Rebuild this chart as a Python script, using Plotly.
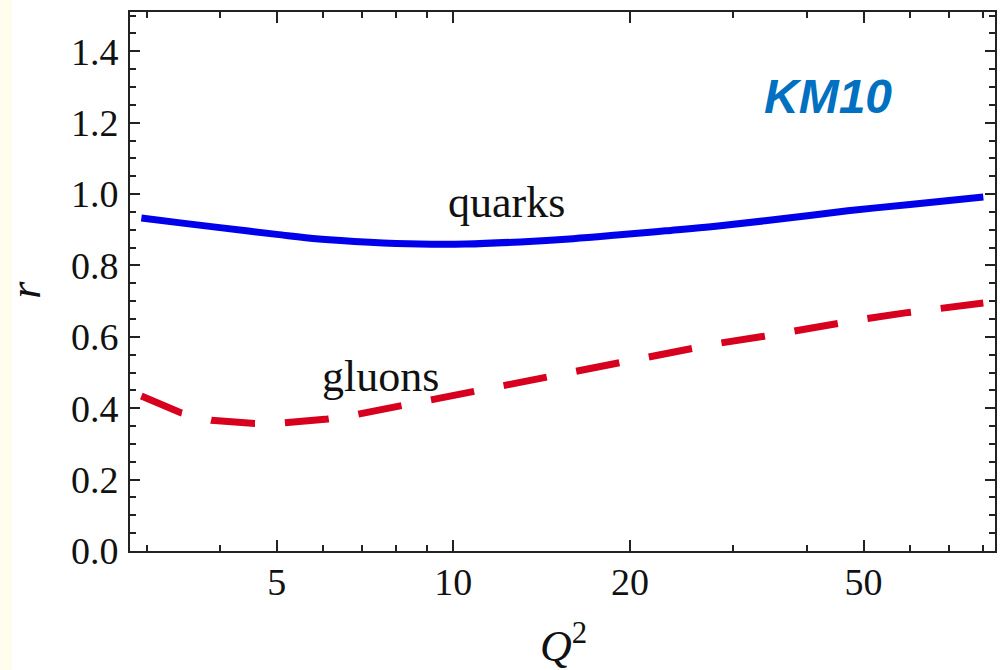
import plotly.graph_objects as go

# Data
q2_quarks = [2.94, 3.4, 4.0, 5.0, 5.9, 7.2, 8.75, 10.5, 13.0, 16.0, 19.0, 23.0, 28.0, 36.0, 47.0, 60.0, 80.0]
r_quarks = [0.933, 0.920, 0.906, 0.887, 0.874, 0.865, 0.860, 0.860, 0.866, 0.875, 0.885, 0.897, 0.910, 0.930, 0.953, 0.971, 0.992]

q2_gluons = [2.94, 3.44, 3.87, 4.59, 5.16, 6.11, 6.87, 8.09, 9.1, 10.7, 12.1, 14.3, 15.9, 18.9,
             21.1, 25.0, 28.1, 33.4, 37.3, 44.1, 49.6, 58.9, 65.7, 77.8, 80.0]
r_gluons = [0.434, 0.387, 0.366, 0.357, 0.359, 0.370, 0.383, 0.406, 0.424, 0.447, 0.463, 0.486, 0.503, 0.527,
            0.543, 0.565, 0.581, 0.600, 0.615, 0.634, 0.649, 0.667, 0.678, 0.692, 0.695]

x_major = [5, 10, 20, 50]
x_minor = [3, 4, 6, 7, 8, 9, 30, 40, 60, 70, 80]
y_major = [0.0, 0.2, 0.4, 0.6, 0.8, 1.0, 1.2, 1.4]
y_labels = ["0.0", "0.2", "0.4", "0.6", "0.8", "1.0", "1.2", "1.4"]

fig = go.Figure()
fig.add_trace(go.Scatter(x=q2_quarks, y=r_quarks, mode="lines", line=dict(color="rgb(0,0,235)", width=7, shape="spline"),
                         showlegend=False, hoverinfo="skip"))
fig.add_trace(go.Scatter(x=q2_gluons, y=r_gluons, mode="lines",
                         line=dict(color="rgb(215,0,30)", width=7, dash="44px,30px"),
                         showlegend=False, hoverinfo="skip"))

serif = "Liberation Serif"
fig.update_layout(
    width=1005, height=670,
    margin=dict(l=130, r=8, t=12, b=119),
    paper_bgcolor="white", plot_bgcolor="white",
    font=dict(family=serif, color="black"),
    xaxis=dict(type="log", range=[0.449, 1.923], showgrid=False, zeroline=False,
               showline=True, linecolor="#222", linewidth=2, mirror="allticks",
               ticks="inside", ticklen=11, tickwidth=2, tickcolor="#222",
               tickvals=x_major, ticktext=[str(v) for v in x_major],
               tickfont=dict(family=serif, size=38, color="#111"), ticklabelstandoff=-4,
               minor=dict(tickvals=x_minor, ticks="inside", ticklen=6, tickwidth=2, tickcolor="#222", showgrid=False)),
    yaxis=dict(range=[0, 1.51], showgrid=False, zeroline=False,
               showline=True, linecolor="#222", linewidth=2, mirror="allticks",
               ticks="inside", ticklen=10, tickwidth=2, tickcolor="#222",
               tickvals=y_major, ticktext=y_labels,
               tickfont=dict(family=serif, size=38, color="#111"), ticklabelstandoff=2,
               minor=dict(dtick=0.05, tick0=0, ticks="inside", ticklen=6, tickwidth=2, tickcolor="#222", showgrid=False)),
)

fig.add_annotation(x=1.09, y=0.975, xref="x", yref="y", text="quarks", showarrow=False,
                   font=dict(family=serif, size=44, color="#111"))
fig.add_annotation(x=0.876, y=0.49, xref="x", yref="y", text="gluons", showarrow=False,
                   font=dict(family=serif, size=44, color="#111"))
fig.add_annotation(x=1.639, y=1.272, xref="x", yref="y", text="<b><i>KM10</i></b>", showarrow=False,
                   font=dict(family="Liberation Sans", size=48, color="rgb(0,112,192)"))
# axis titles
fig.add_annotation(x=(30 - 130) / 867, y=(551 - 290) / 539, xref="paper", yref="paper", text="<i>r</i>",
                   textangle=-90, showarrow=False, xshift=-32, font=dict(family=serif, size=44, color="#111"))
fig.add_annotation(x=(565 - 130) / 867, y=(551 - 614) / 539, xref="paper", yref="paper",
                   text="<i>Q</i><sup>2</sup>", showarrow=False, yanchor="top",
                   font=dict(family=serif, size=44, color="#111"))
# faint cream strip on left edge
fig.add_shape(type="rect", xref="paper", yref="paper", x0=(0 - 130) / 867, x1=(12 - 130) / 867,
              y0=(551 - 670) / 539, y1=(551 + 12) / 539, fillcolor="rgb(255,253,238)", line=dict(width=0), layer="below")

fig.write_html("out.html")
